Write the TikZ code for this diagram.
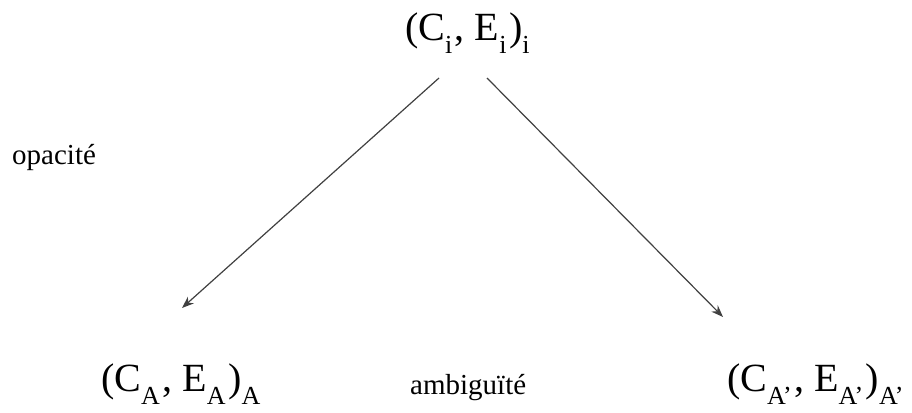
\documentclass[tikz,border=0pt]{standalone}
\usepackage{fontspec}
\setmainfont{Liberation Serif}
\usepackage{tikz}
\usetikzlibrary{arrows.meta}
\usetikzlibrary{positioning}

\newcommand{\sbs}[1]{\raisebox{-13pt}{\fontsize{26}{26}\selectfont #1}\kern2.5pt}

\begin{document}
\begin{tikzpicture}[x=1pt,y=1pt,
    big/.style={inner sep=0pt, anchor=base west, font=\fontsize{40}{42}\selectfont},
    small/.style={inner sep=0pt, anchor=base west, font=\fontsize{29}{31}\selectfont},
    fleche/.style={draw=black!75, line width=1.2pt, -{Stealth[length=12pt,width=9pt]}}]
    \useasboundingbox (0,0) rectangle (912,412);
    % les trois couples
    \node[big] (ci) at (405,371) {(C\sbs{i}, E\sbs{i})\sbs{i}};
    \node[big] (ca) at (101,20) {(C\sbs{A}, E\sbs{A})\sbs{A}};
    \node[big] (cb) at (727,20) {(C\sbs{A’}, E\sbs{A’})\sbs{A’}};
    % les libellés
    \node[small] (opa) at (12,247) {opacité};
    \node[small] (amb) at (410,17) {ambiguïté};
    % bouts des flèches
    \coordinate (d1) at (439,334);
    \coordinate (f1) at (182,104);
    \coordinate (d2) at (487,334);
    \coordinate (f2) at (723,95);
    \draw[fleche] (d1) -- (f1); % vers la gauche
    \draw[fleche] (d2) -- (f2); % vers la droite
\end{tikzpicture}
\end{document}
